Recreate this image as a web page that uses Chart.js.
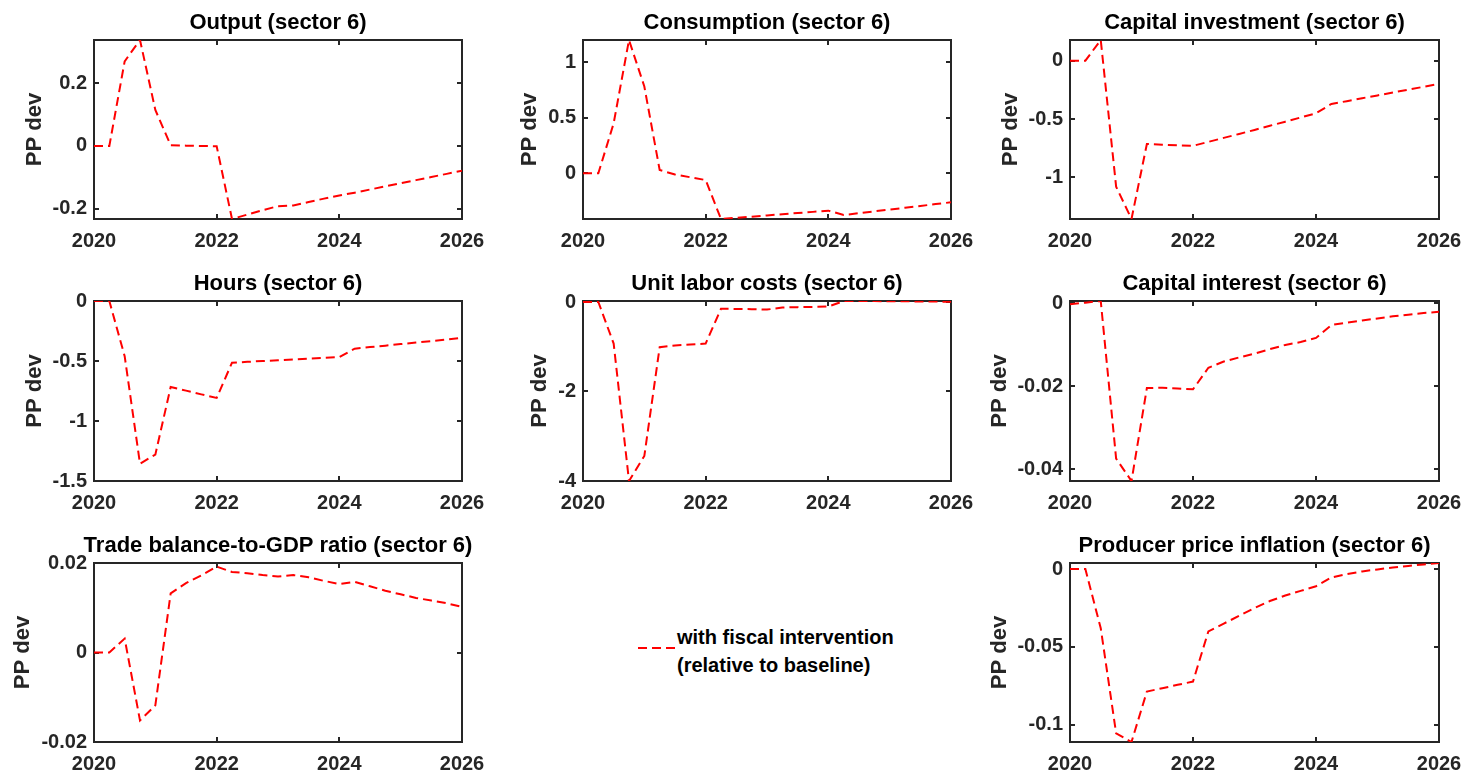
<!DOCTYPE html>
<html>
<head>
<meta charset="utf-8">
<script src="https://cdn.jsdelivr.net/npm/chart.js@4.4.1/dist/chart.umd.min.js"></script>
<style>
html,body{margin:0;padding:0;background:#fff;overflow:hidden;width:1466px;height:773px;}
canvas.panel{position:absolute;}
#legendText{position:absolute;left:677px;top:623px;line-height:28px;font-weight:bold;font-size:20px;font-family:"Liberation Sans",Arial,Helvetica,sans-serif;color:#000;white-space:nowrap;}
#legendLine{position:absolute;left:636px;top:643px;}
</style>
</head>
<body>
<svg id="legendLine" width="42" height="10"><line x1="2" y1="5" x2="39" y2="5" stroke="#ff0000" stroke-width="2" stroke-dasharray="9 5"/></svg>
<div id="legendText">with fiscal intervention<br>(relative to baseline)</div>
<script>
// ---------------- data ----------------
const quarters = [2020, 2020.25, 2020.5, 2020.75, 2021, 2021.25, 2021.5, 2021.75, 2022, 2022.25, 2022.5, 2022.75, 2023, 2023.25, 2023.5, 2023.75, 2024, 2024.25, 2024.5, 2024.75, 2025, 2025.25, 2025.5, 2025.75, 2026];
const xTickValues = [2020, 2022, 2024, 2026];

const outputDev = [0, 0, 0.27, 0.338, 0.115, 0.002, 0.001, 0.0, -0.001, -0.233, -0.219, -0.205, -0.192, -0.19, -0.179, -0.168, -0.158, -0.149, -0.139, -0.129, -0.119, -0.109, -0.099, -0.089, -0.079];
const consumptionDev = [0, 0, 0.45, 1.198, 0.78, 0.03, -0.01, -0.035, -0.06, -0.41, -0.399, -0.389, -0.378, -0.367, -0.356, -0.346, -0.335, -0.374, -0.358, -0.341, -0.325, -0.309, -0.293, -0.276, -0.26];
const capInvestmentDev = [0, 0, 0.177, -1.08, -1.357, -0.714, -0.72, -0.726, -0.73, -0.696, -0.662, -0.628, -0.594, -0.558, -0.523, -0.487, -0.451, -0.371, -0.347, -0.322, -0.298, -0.273, -0.249, -0.224, -0.2];
const hoursDev = [0, 0, -0.46, -1.356, -1.28, -0.717, -0.747, -0.778, -0.808, -0.514, -0.507, -0.5, -0.494, -0.487, -0.48, -0.474, -0.467, -0.397, -0.384, -0.372, -0.359, -0.346, -0.334, -0.321, -0.308];
const unitLaborCostsDev = [0, 0, -0.93, -4.0, -3.44, -1.01, -0.97, -0.95, -0.93, -0.15, -0.155, -0.16, -0.17, -0.125, -0.115, -0.11, -0.1, 0.02, 0.02, 0.02, 0.018, 0.015, 0.012, 0.009, 0.006];
const capInterestDev = [-0.0002, 0.0002, 0.0006, -0.0374, -0.0428, -0.0204, -0.0203, -0.0205, -0.0207, -0.0155, -0.014, -0.013, -0.0121, -0.011, -0.01, -0.0093, -0.0083, -0.0052, -0.0046, -0.0041, -0.0036, -0.0031, -0.0027, -0.0023, -0.002];
const tradeBalanceDev = [0, 0, 0.0031, -0.0152, -0.0118, 0.0132, 0.0155, 0.0172, 0.0192, 0.018, 0.0177, 0.0173, 0.017, 0.0173, 0.0168, 0.016, 0.0153, 0.0158, 0.0148, 0.0138, 0.013, 0.0122, 0.0116, 0.011, 0.0102];
const producerPriceDev = [0, 0, -0.038, -0.1054, -0.111, -0.0786, -0.0765, -0.0743, -0.0722, -0.04, -0.035, -0.03, -0.025, -0.0205, -0.017, -0.014, -0.011, -0.0054, -0.0032, -0.0015, -0.0002, 0.001, 0.002, 0.003, 0.0039];

const outputTicks = [-0.2, 0, 0.2];
const consumptionTicks = [0, 0.5, 1];
const capInvestmentTicks = [-1, -0.5, 0];
const hoursTicks = [-1.5, -1, -0.5, 0];
const unitLaborCostsTicks = [-4, -2, 0];
const capInterestTicks = [-0.04, -0.02, 0];
const tradeBalanceTicks = [-0.02, 0, 0.02];
const producerPriceTicks = [-0.1, -0.05, 0];

const panelTitles = ['Output (sector 6)', 'Consumption (sector 6)', 'Capital investment (sector 6)', 'Hours (sector 6)', 'Unit labor costs (sector 6)', 'Capital interest (sector 6)', 'Trade balance-to-GDP ratio (sector 6)', 'Producer price inflation (sector 6)'];
const yAxisLabel = 'PP dev';
const seriesLabel = 'with fiscal intervention (relative to baseline)';

// ---------------- layout / style ----------------
const FONT = '"Liberation Sans", Arial, Helvetica, sans-serif';
const AX = '#262626';
const SIDE = 90, TOPH = 40, BOTH = 35;

// lab = distance from plot left edge to the centre of the "PP dev" label
const panels = [
  {title: panelTitles[0], data: outputDev, ticks: outputTicks, range: [-0.233, 0.338], L: 94, T: 40, W: 368, H: 179, lab: 59},
  {title: panelTitles[1], data: consumptionDev, ticks: consumptionTicks, range: [-0.41, 1.198], L: 583, T: 40, W: 368, H: 179, lab: 53},
  {title: panelTitles[2], data: capInvestmentDev, ticks: capInvestmentTicks, range: [-1.357, 0.177], L: 1070, T: 40, W: 369, H: 179, lab: 59},
  {title: panelTitles[3], data: hoursDev, ticks: hoursTicks, range: [-1.5, 0], L: 94, T: 301, W: 368, H: 180, lab: 59},
  {title: panelTitles[4], data: unitLaborCostsDev, ticks: unitLaborCostsTicks, range: [-4.0, 0.022], L: 583, T: 301, W: 368, H: 180, lab: 43},
  {title: panelTitles[5], data: capInterestDev, ticks: capInterestTicks, range: [-0.0428, 0.0006], L: 1070, T: 301, W: 369, H: 180, lab: 70},
  {title: panelTitles[6], data: tradeBalanceDev, ticks: tradeBalanceTicks, range: [-0.02, 0.02], L: 94, T: 563, W: 368, H: 179, lab: 71},
  {title: panelTitles[7], data: producerPriceDev, ticks: producerPriceTicks, range: [-0.111, 0.0039], L: 1070, T: 563, W: 369, H: 179, lab: 70}
];

const framePlugin = {
  id: 'frame',
  beforeDatasetsDraw(chart) {
    const {ctx, chartArea: a, scales} = chart;
    const x = scales.x, y = scales.y;
    ctx.save();
    ctx.strokeStyle = AX;
    ctx.lineWidth = 2;
    ctx.strokeRect(a.left, a.top, a.right - a.left, a.bottom - a.top);
    ctx.beginPath();
    const tl = 5;
    x.ticks.forEach(t => {
      const px = Math.round(x.getPixelForValue(t.value));
      ctx.moveTo(px, a.bottom); ctx.lineTo(px, a.bottom - tl);
      ctx.moveTo(px, a.top); ctx.lineTo(px, a.top + tl);
    });
    y.ticks.forEach(t => {
      const py = Math.round(y.getPixelForValue(t.value));
      ctx.moveTo(a.left, py); ctx.lineTo(a.left + tl, py);
      ctx.moveTo(a.right, py); ctx.lineTo(a.right - tl, py);
    });
    ctx.stroke();
    ctx.restore();
  }
};

panels.forEach((p, idx) => {
  const c = document.createElement('canvas');
  c.className = 'panel';
  const cw = p.W + 2 * SIDE, ch = p.H + TOPH + BOTH;
  c.width = cw; c.height = ch;
  c.style.left = (p.L - SIDE) + 'px';
  c.style.top = (p.T - TOPH) + 'px';
  c.style.width = cw + 'px';
  c.style.height = ch + 'px';
  document.body.appendChild(c);

  const labelLineHeight = 26;
  const labelPad = SIDE - p.lab - labelLineHeight / 2;

  new Chart(c, {
    type: 'line',
    data: {
      datasets: [{
        label: seriesLabel,
        data: quarters.map((q, i) => ({x: q, y: p.data[i]})),
        borderColor: '#ff0000',
        backgroundColor: '#ff0000',
        borderWidth: 2,
        borderDash: [9, 5],
        pointRadius: 0,
        pointHoverRadius: 0,
        fill: false,
        tension: 0
      }]
    },
    options: {
      responsive: false,
      animation: false,
      devicePixelRatio: 1,
      events: [],
      layout: {padding: 0},
      plugins: {
        legend: {display: false},
        tooltip: {enabled: false},
        title: {
          display: true,
          text: p.title,
          color: '#000',
          fullSize: true,
          font: {family: FONT, size: 22, weight: 'bold', lineHeight: '26px'},
          padding: {top: 10, bottom: 4}
        }
      },
      scales: {
        x: {
          type: 'linear',
          min: 2020, max: 2026,
          afterBuildTicks: s => { s.ticks = xTickValues.map(v => ({value: v})); },
          afterFit: s => { s.height = BOTH; },
          grid: {display: false, drawTicks: false},
          border: {display: false},
          ticks: {
            callback: v => String(v),
            color: AX,
            font: {family: FONT, size: 20, weight: 'bold'},
            padding: 10,
            maxRotation: 0,
            autoSkip: false
          }
        },
        y: {
          type: 'linear',
          position: 'left',
          min: p.range[0], max: p.range[1],
          afterBuildTicks: s => { s.ticks = p.ticks.map(v => ({value: v})); },
          afterFit: s => { s.width = SIDE; },
          grid: {display: false, drawTicks: false},
          border: {display: false},
          ticks: {
            callback: v => String(v),
            color: AX,
            font: {family: FONT, size: 20, weight: 'bold'},
            padding: 7,
            autoSkip: false
          },
          title: {
            display: true,
            text: yAxisLabel,
            color: AX,
            font: {family: FONT, size: 22, weight: 'bold', lineHeight: labelLineHeight + 'px'},
            padding: {top: labelPad, bottom: 0}
          }
        },
        yR: {
          type: 'linear',
          position: 'right',
          display: true,
          afterFit: s => { s.width = SIDE; },
          grid: {display: false, drawTicks: false},
          border: {display: false},
          ticks: {display: false}
        }
      }
    },
    plugins: [framePlugin]
  });
});
</script>
</body>
</html>
